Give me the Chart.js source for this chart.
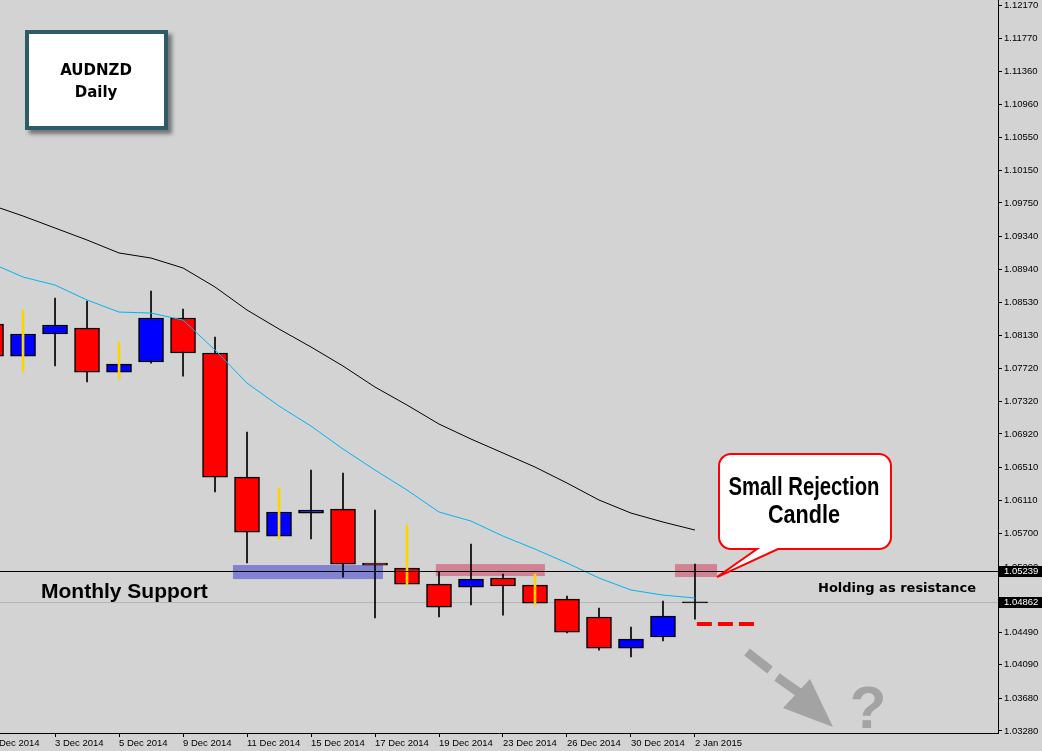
<!DOCTYPE html>
<html>
<head>
<meta charset="utf-8">
<title>AUDNZD Daily</title>
<script src="https://cdn.jsdelivr.net/npm/chart.js@4.4.1/dist/chart.umd.min.js"></script>
<style>
    html, body { margin: 0; padding: 0; background: #d3d3d3; overflow: hidden; }
    #wrap { width: 1042px; height: 751px; }
</style>
</head>
<body>
<div id="wrap"><canvas id="chart" width="1042" height="751"></canvas></div>
<script>
// Daily bars, 1 Dec 2014 - 2 Jan 2015
const dates = ['1 Dec 2014', '2 Dec 2014', '3 Dec 2014', '4 Dec 2014', '5 Dec 2014',
    '8 Dec 2014', '9 Dec 2014', '10 Dec 2014', '11 Dec 2014', '12 Dec 2014',
    '15 Dec 2014', '16 Dec 2014', '17 Dec 2014', '18 Dec 2014', '19 Dec 2014',
    '22 Dec 2014', '23 Dec 2014', '24 Dec 2014', '26 Dec 2014', '29 Dec 2014',
    '30 Dec 2014', '31 Dec 2014', '2 Jan 2015'];

const opens  = [1.08266, 1.07874, 1.08144, 1.08217, 1.07678, 1.07801, 1.08340, 1.07911, 1.06391, 1.05668, 1.05950, 1.05999,
                1.05338, 1.05276, 1.05080, 1.05043, 1.05154, 1.05068, 1.04896, 1.04676, 1.04296, 1.04431, 1.04850];
const highs  = [1.08364, 1.08438, 1.08585, 1.08548, 1.08046, 1.08671, 1.08450, 1.08107, 1.06943, 1.06257, 1.06477, 1.06440,
                1.05987, 1.05803, 1.05227, 1.05570, 1.05203, 1.05203, 1.04933, 1.04786, 1.04553, 1.04872, 1.05325];
const lows   = [1.07776, 1.07678, 1.07752, 1.07556, 1.07592, 1.07788, 1.07629, 1.06208, 1.05338, 1.05632, 1.05632, 1.05166,
                1.04664, 1.05068, 1.04676, 1.04823, 1.04700, 1.04823, 1.04480, 1.04271, 1.04186, 1.04382, 1.04651];
const closes = [1.07874, 1.08144, 1.08254, 1.07678, 1.07776, 1.08340, 1.07911, 1.06391, 1.05717, 1.05963, 1.05987, 1.05325,
                1.05313, 1.05080, 1.04798, 1.05141, 1.05056, 1.04847, 1.04492, 1.04296, 1.04406, 1.04688, 1.04862];

// moving averages (fast = blue, slow = black)
const maFast = [1.09014, 1.08842, 1.08744, 1.08561, 1.08413, 1.08401, 1.08315, 1.07948, 1.07543, 1.07262, 1.07016, 1.06735,
                1.06477, 1.06232, 1.05963, 1.05852, 1.05668, 1.05509, 1.05338, 1.05154, 1.05007, 1.04945, 1.04909];
const maSlow = [1.09725, 1.09590, 1.09443, 1.09296, 1.09137, 1.09075, 1.08953, 1.08720, 1.08438, 1.08205, 1.07985, 1.07752,
                1.07494, 1.07274, 1.07041, 1.06857, 1.06686, 1.06514, 1.06318, 1.06110, 1.05950, 1.05840, 1.05742];

// bars whose wick is marked yellow
const yellowWickDays = ['2 Dec 2014', '5 Dec 2014', '12 Dec 2014', '18 Dec 2014', '24 Dec 2014'];

// price scale labels
const yTicks = [1.12170, 1.11770, 1.11360, 1.10960, 1.10550, 1.10150, 1.09750, 1.09340, 1.08940, 1.08530, 1.08130,
                1.07720, 1.07320, 1.06920, 1.06510, 1.06110, 1.05700, 1.05290, 1.04880, 1.04490, 1.04090, 1.03680, 1.03280];

const supportLevel = 1.05239;
const lastPrice = 1.04862;
const targetLevel = 1.04590;

// drawn zones: [fromBar, toBar, low, high]
const supportZone = [7.56, 12.25, 1.05141, 1.05313];
const resistZones = [[13.9, 17.31, 1.05178, 1.05325], [21.375, 22.69, 1.05166, 1.05325]];

const BG = '#d3d3d3';
const AXIS_FONT = { family: 'Liberation Sans, Arial, sans-serif', size: 9.5 };

const bodies = dates.map((d, i) => ({ x: i, y: [opens[i], closes[i]] }));
const wicksBlack = [];
const wicksYellow = [];
dates.forEach((d, i) => {
    const w = { x: i, y: [lows[i], highs[i]] };
    if (yellowWickDays.includes(d)) wicksYellow.push(w); else wicksBlack.push(w);
});

function noPadding(s) {
    s.paddingLeft = 0;
    s.paddingRight = 0;
    s.paddingTop = 0;
    s.paddingBottom = 0;
}

function priceBox(ctx, y, value) {
    const py = Math.round(y.getPixelForValue(value));
    ctx.fillStyle = '#000';
    ctx.fillRect(999, py - 5, 43, 11);
    ctx.fillStyle = '#fff';
    ctx.font = '9.5px Liberation Sans, Arial, sans-serif';
    ctx.textAlign = 'left';
    ctx.textBaseline = 'middle';
    ctx.fillText(value.toFixed(5), 1004, py + 0.5);
}

function narrowText(ctx, text, cx, base, width) {
    const w = ctx.measureText(text).width;
    ctx.save();
    ctx.translate(cx, base);
    ctx.scale(width / w, 1);
    ctx.textAlign = 'center';
    ctx.fillText(text, 0, 0);
    ctx.restore();
}

const overlay = {
    id: 'overlay',
    beforeDraw(chart) {
        const ctx = chart.ctx;
        ctx.save();
        ctx.fillStyle = BG;
        ctx.fillRect(0, 0, chart.width, chart.height);
        ctx.restore();
    },
    beforeDatasetsDraw(chart) {
        const { ctx, chartArea: a, scales: { x, y } } = chart;
        ctx.save();
        ctx.beginPath();
        ctx.rect(a.left, a.top, a.right - a.left, a.bottom - a.top);
        ctx.clip();

        const zone = (z, color) => {
            const x0 = x.getPixelForValue(z[0]), x1 = x.getPixelForValue(z[1]);
            const y0 = y.getPixelForValue(z[3]), y1 = y.getPixelForValue(z[2]);
            ctx.fillStyle = color;
            ctx.fillRect(x0, y0, x1 - x0, y1 - y0);
        };
        zone(supportZone, '#8282d2');
        resistZones.forEach(z => zone(z, '#d18393'));

        // last price line
        const lp = Math.round(y.getPixelForValue(lastPrice)) + 0.5;
        ctx.strokeStyle = '#b5b5b5';
        ctx.lineWidth = 1;
        ctx.beginPath();
        ctx.moveTo(a.left, lp);
        ctx.lineTo(a.right, lp);
        ctx.stroke();
        ctx.restore();
    },
    afterDatasetsDraw(chart) {
        const { ctx, chartArea: a, scales: { x, y } } = chart;
        ctx.save();
        // monthly support line
        const sp = Math.round(y.getPixelForValue(supportLevel)) + 0.5;
        ctx.strokeStyle = '#000';
        ctx.lineWidth = 1;
        ctx.beginPath();
        ctx.moveTo(a.left, sp);
        ctx.lineTo(a.right, sp);
        ctx.stroke();

        // red dashed target
        const ty = y.getPixelForValue(targetLevel);
        ctx.strokeStyle = '#ff0000';
        ctx.lineWidth = 4;
        ctx.setLineDash([15, 6]);
        ctx.beginPath();
        ctx.moveTo(x.getPixelForValue(22.06), ty);
        ctx.lineTo(x.getPixelForValue(23.94), ty);
        ctx.stroke();
        ctx.setLineDash([]);
        ctx.restore();
    },
    afterDraw(chart) {
        const { ctx, scales: { x, y } } = chart;
        ctx.save();

        priceBox(ctx, y, supportLevel);
        priceBox(ctx, y, lastPrice);

        // Monthly Support label
        ctx.fillStyle = '#000';
        ctx.textAlign = 'left';
        ctx.textBaseline = 'alphabetic';
        ctx.font = 'bold 21px Liberation Sans, Arial, sans-serif';
        ctx.fillText('Monthly Support', 41, 598);

        ctx.font = 'bold 13px DejaVu Sans, Verdana, sans-serif';
        ctx.fillText('Holding as resistance', 818, 592);

        // AUDNZD box
        ctx.save();
        ctx.shadowColor = 'rgba(0,0,0,0.45)';
        ctx.shadowBlur = 4;
        ctx.shadowOffsetX = 4;
        ctx.shadowOffsetY = 4;
        ctx.fillStyle = '#2d5c66';
        ctx.fillRect(25, 30, 143, 100);
        ctx.restore();
        ctx.fillStyle = '#fff';
        ctx.fillRect(29, 34, 135, 92);
        ctx.fillStyle = '#000';
        ctx.textAlign = 'center';
        ctx.font = 'bold 15px DejaVu Sans, Verdana, sans-serif';
        ctx.fillText('AUDNZD', 96, 75);
        ctx.fillText('Daily', 96, 97);

        // callout pointing at the rejection candle zone
        const z = resistZones[1];
        const tipX = x.getPixelForValue(z[1]);
        const tipY = y.getPixelForValue(z[2]);
        const x0 = 719, y0 = 454, x1 = 891, y1 = 549, r = 12;
        ctx.beginPath();
        ctx.moveTo(x0 + r, y0);
        ctx.lineTo(x1 - r, y0);
        ctx.arcTo(x1, y0, x1, y0 + r, r);
        ctx.lineTo(x1, y1 - r);
        ctx.arcTo(x1, y1, x1 - r, y1, r);
        ctx.lineTo(778, y1);
        ctx.lineTo(tipX, tipY);
        ctx.lineTo(757, y1);
        ctx.lineTo(x0 + r, y1);
        ctx.arcTo(x0, y1, x0, y1 - r, r);
        ctx.lineTo(x0, y0 + r);
        ctx.arcTo(x0, y0, x0 + r, y0, r);
        ctx.closePath();
        ctx.fillStyle = '#fff';
        ctx.fill();
        ctx.strokeStyle = '#ff0000';
        ctx.lineWidth = 2;
        ctx.stroke();

        ctx.fillStyle = '#000';
        ctx.font = 'bold 26px Liberation Sans, Arial, sans-serif';
        narrowText(ctx, 'Small Rejection', 804, 495, 151);
        narrowText(ctx, 'Candle', 804, 523, 72);

        // grey arrow and question mark
        ctx.strokeStyle = '#a3a3a3';
        ctx.fillStyle = '#a3a3a3';
        ctx.lineWidth = 9;
        ctx.beginPath();
        ctx.moveTo(747, 652); ctx.lineTo(770, 670);
        ctx.moveTo(777, 677); ctx.lineTo(801, 694);
        ctx.stroke();
        ctx.beginPath();
        ctx.moveTo(783, 708);
        ctx.lineTo(810, 679);
        ctx.lineTo(833, 727);
        ctx.closePath();
        ctx.fill();

        ctx.font = 'bold 60px Liberation Sans, Arial, sans-serif';
        ctx.textAlign = 'center';
        ctx.fillText('?', 868, 728);

        ctx.restore();
    }
};

const ctx = document.getElementById('chart').getContext('2d');
const chart = new Chart(ctx, {
    type: 'bar',
    data: {
        datasets: [
            {
                type: 'line',
                data: maSlow.map((v, i) => ({ x: i, y: v })),
                borderColor: '#000000',
                borderWidth: 1,
                pointRadius: 0,
                tension: 0,
                order: 0
            },
            {
                type: 'line',
                data: maFast.map((v, i) => ({ x: i, y: v })),
                borderColor: '#00b4f5',
                borderWidth: 1,
                pointRadius: 0,
                tension: 0,
                order: 0
            },
            {
                data: wicksYellow,
                backgroundColor: '#ffd200',
                barThickness: 2,
                grouped: false,
                order: 1
            },
            {
                data: bodies,
                backgroundColor: c => {
                    const i = c.dataIndex;
                    if (Math.abs(closes[i] - opens[i]) < 0.0002) return '#000000';
                    return closes[i] >= opens[i] ? '#0000ff' : '#ff0000';
                },
                borderColor: '#000000',
                borderWidth: 1.5,
                borderSkipped: false,
                barThickness: 25,
                grouped: false,
                order: 2
            },
            {
                data: wicksBlack,
                backgroundColor: '#000000',
                barThickness: 1,
                grouped: false,
                order: 3
            }
        ]
    },
    options: {
        responsive: false,
        animation: false,
        devicePixelRatio: 1,
        layout: { padding: 0, autoPadding: false },
        plugins: {
            legend: { display: false },
            tooltip: { enabled: false }
        },
        scales: {
            x: {
                type: 'linear',
                min: 0.28,
                max: 31.47,
                offset: false,
                afterBuildTicks: s => {
                    s.ticks = dates.map((d, i) => ({ value: i })).filter(t => t.value % 2 === 0);
                },
                afterFit: s => { s.height = 18; noPadding(s); },
                ticks: {
                    autoSkip: false,
                    maxRotation: 0,
                    align: 'start',
                    padding: 1,
                    color: '#000',
                    font: AXIS_FONT,
                    callback: v => dates[v]
                },
                grid: { drawOnChartArea: false, tickLength: 4, color: '#000', offset: false },
                border: { color: '#000' }
            },
            y: {
                type: 'linear',
                position: 'right',
                min: 1.03255,
                max: 1.12237,
                afterBuildTicks: s => {
                    s.ticks = yTicks.map(v => ({ value: v }));
                },
                afterFit: s => { s.width = 44; noPadding(s); },
                ticks: {
                    padding: 2,
                    color: '#000',
                    font: AXIS_FONT,
                    callback: v => v.toFixed(5)
                },
                grid: { drawOnChartArea: false, tickLength: 4, color: '#000' },
                border: { color: '#000' }
            }
        }
    },
    plugins: [overlay]
});
</script>
</body>
</html>
